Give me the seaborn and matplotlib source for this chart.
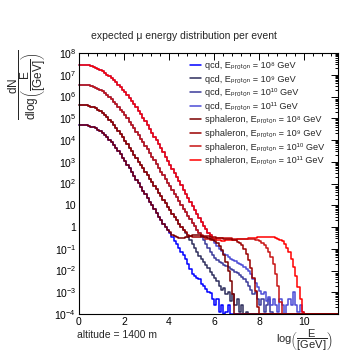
import numpy as np
import pandas as pd
import matplotlib
matplotlib.use("Agg")
import matplotlib.pyplot as plt
import seaborn as sns
from matplotlib.ticker import MultipleLocator, LogLocator, FixedLocator, FixedFormatter, NullFormatter

# ---------------- data (log10 of counts per bin, bin width 0.1 in log10(E/GeV), starting at 0) ----
# None = empty bin
low_1e8 = [4.69, 4.69, 4.68, 4.67, 4.65, 4.62, 4.58, 4.53, 4.47, 4.40,
           4.32, 4.23, 4.13, 4.02, 3.90, 3.77, 3.63, 3.49, 3.34, 3.18,
           3.02, 2.86, 2.69, 2.52, 2.35, 2.18, 2.01, 1.84, 1.67, 1.50,
           1.33, 1.16, 0.99, 0.82, 0.65, 0.48, 0.32, 0.16, 0.01, -0.13]
tail_qcd_1e8 = [-0.28, -0.45, -0.63, -0.80, -0.97, -1.13, -1.30, -1.48, -1.70, -1.95,
                -2.15, -2.25, -2.35, -2.40, -2.60, -2.70, -2.85, -3.00, -3.05, -3.30,
                -3.60, -3.30, -3.90, -3.60, None, -3.90, -3.60]
tail_sph_1e8 = [-0.25, -0.35, -0.42, -0.47, -0.50, -0.51, -0.50, -0.48, -0.45, -0.42,
                -0.39, -0.37, -0.36, -0.37, -0.40, -0.44, -0.48, -0.52, -0.56, -0.60,
                -0.66, -0.75, -0.88, -1.06, -1.30, -1.62, -2.02, -2.50, -3.10]

low_1e9 = [5.61, 5.61, 5.60, 5.59, 5.57, 5.54, 5.50, 5.45, 5.39, 5.32,
           5.24, 5.15, 5.05, 4.94, 4.82, 4.69, 4.56, 4.42, 4.27, 4.12,
           3.97, 3.81, 3.65, 3.49, 3.33, 3.17, 3.01, 2.85, 2.69, 2.53,
           2.37, 2.21, 2.05, 1.89, 1.73, 1.57, 1.41, 1.25, 1.09, 0.93,
           0.77, 0.61, 0.45, 0.30, 0.15, 0.01, -0.13]
tail_qcd_1e9 = [-0.28, -0.45, -0.62, -0.80, -0.98, -1.15, -1.32, -1.48, -1.62, -1.76,
                -1.90, -2.05, -2.20, -2.35, -2.50, -2.70, -2.90, -2.80, -3.10, -3.00,
                -3.40, -3.10, -3.60, -3.30, -3.90, -3.60, None, -3.90]
tail_sph_1e9 = [-0.25, -0.35, -0.42, -0.46, -0.47, -0.46, -0.44, -0.42, -0.41, -0.41,
                -0.42, -0.44, -0.46, -0.48, -0.50, -0.51, -0.52, -0.53, -0.54, -0.55,
                -0.57, -0.59, -0.62, -0.67, -0.74, -0.85, -1.00, -1.22, -1.50, -1.88,
                -2.35, -2.95, -3.70]

low_1e10 = [6.54, 6.54, 6.54, 6.53, 6.51, 6.48, 6.45, 6.41, 6.36, 6.30,
            6.23, 6.15, 6.06, 5.97, 5.87, 5.76, 5.65, 5.53, 5.40, 5.27,
            5.13, 4.99, 4.84, 4.69, 4.54, 4.38, 4.22, 4.06, 3.90, 3.73,
            3.57, 3.40, 3.23, 3.06, 2.89, 2.72, 2.55, 2.38, 2.21, 2.04,
            1.87, 1.70, 1.53, 1.36, 1.19, 1.02, 0.85, 0.68, 0.51, 0.35,
            0.19, 0.03, -0.12]
tail_qcd_1e10 = [-0.28, -0.45, -0.62, -0.80, -0.98, -1.15, -1.30, -1.42, -1.52, -1.60,
                 -1.67, -1.74, -1.80, -1.86, -1.92, -1.98, -2.05, -2.12, -2.20, -2.30,
                 -2.40, -2.55, -2.70, -2.90, -3.10, -3.00, -3.30, -3.60, -3.30, -3.90,
                 -3.60, -3.30, -3.90]
tail_sph_1e10 = [-0.26, -0.38, -0.47, -0.53, -0.57, -0.58, -0.57, -0.55, -0.52, -0.50,
                 -0.49, -0.49, -0.50, -0.51, -0.52, -0.53, -0.53, -0.53, -0.53, -0.53,
                 -0.53, -0.53, -0.54, -0.55, -0.57, -0.59, -0.62, -0.66, -0.72, -0.82,
                 -0.96, -1.15, -1.40, -1.72, -2.15, -2.70, -3.45]

low_1e11 = [7.46, 7.46, 7.46, 7.45, 7.43, 7.40, 7.37, 7.33, 7.28, 7.22,
            7.16, 7.09, 7.01, 6.93, 6.84, 6.75, 6.65, 6.54, 6.43, 6.31,
            6.19, 6.06, 5.93, 5.79, 5.65, 5.50, 5.35, 5.19, 5.03, 4.86,
            4.69, 4.52, 4.34, 4.16, 3.98, 3.80, 3.62, 3.43, 3.24, 3.05,
            2.86, 2.67, 2.48, 2.29, 2.10, 1.91, 1.72, 1.53, 1.34, 1.15,
            0.96, 0.77, 0.58, 0.40, 0.22, 0.05, -0.11, -0.26, -0.39]
tail_qcd_1e11 = [-0.55, -0.72, -0.88, -1.01, -1.12, -1.22, -1.31, -1.39, -1.46, -1.52,
                 -1.58, -1.64, -1.70, -1.76, -1.83, -1.92, -2.03, -2.18, -2.38, -2.58,
                 -2.75, -2.92, -3.10, -3.00, -3.40, -3.20, -3.60, -3.30, -3.60, -3.90,
                 -3.30, -3.60, None, -3.60, -3.30, -3.60, -3.00, -3.60, -3.90, -3.60,
                 -3.90]
tail_sph_1e11 = [-0.49, -0.56, -0.60, -0.62, -0.63, -0.63, -0.62, -0.61, -0.60, -0.59,
                 -0.58, -0.57, -0.56, -0.55, -0.54, -0.53, -0.52, -0.51, -0.50, -0.49,
                 -0.48, -0.47, -0.47, -0.46, -0.46, -0.46, -0.47, -0.48, -0.50, -0.53,
                 -0.58, -0.66, -0.78, -0.95, -1.17, -1.45, -1.82, -2.25, -2.75, -3.30,
                 -3.90]

qcd_1e8 = low_1e8 + tail_qcd_1e8
qcd_1e9 = low_1e9 + tail_qcd_1e9
qcd_1e10 = low_1e10 + tail_qcd_1e10
qcd_1e11 = low_1e11 + tail_qcd_1e11
sph_1e8 = low_1e8 + tail_sph_1e8
sph_1e9 = low_1e9 + tail_sph_1e9
sph_1e10 = low_1e10 + tail_sph_1e10
sph_1e11 = low_1e11 + tail_sph_1e11

labels = ["qcd, E\u209a\u1d63\u2092\u209c\u2092\u2099 = 10\u2078 GeV",
          "qcd, E\u209a\u1d63\u2092\u209c\u2092\u2099 = 10\u2079 GeV",
          "qcd, E\u209a\u1d63\u2092\u209c\u2092\u2099 = 10\u00b9\u2070 GeV",
          "qcd, E\u209a\u1d63\u2092\u209c\u2092\u2099 = 10\u00b9\u00b9 GeV",
          "sphaleron, E\u209a\u1d63\u2092\u209c\u2092\u2099 = 10\u2078 GeV",
          "sphaleron, E\u209a\u1d63\u2092\u209c\u2092\u2099 = 10\u2079 GeV",
          "sphaleron, E\u209a\u1d63\u2092\u209c\u2092\u2099 = 10\u00b9\u2070 GeV",
          "sphaleron, E\u209a\u1d63\u2092\u209c\u2092\u2099 = 10\u00b9\u00b9 GeV"]
series_values = [qcd_1e8, qcd_1e9, qcd_1e10, qcd_1e11, sph_1e8, sph_1e9, sph_1e10, sph_1e11]
colors = ["#0000ff", "#2e2e5c", "#3a3a9a", "#4b4bd6",
          "#7a0000", "#9a0000", "#c81414", "#ff0000"]

y_tick_values = [1e-4, 1e-3, 1e-2, 1e-1, 1, 10, 1e2, 1e3, 1e4, 1e5, 1e6, 1e7, 1e8]
y_tick_labels = [r"$10^{-4}$", r"$10^{-3}$", r"$10^{-2}$", r"$10^{-1}$", "1", "10",
                 r"$10^{2}$", r"$10^{3}$", r"$10^{4}$", r"$10^{5}$", r"$10^{6}$", r"$10^{7}$", r"$10^{8}$"]

BIN_WIDTH = 0.1
N_BINS = 115
YMIN, YMAX = 1e-4, 1e8
XMAX = 11.5

# ---------------- style ----------------
sns.set_theme(style="white")
plt.rcParams["font.family"] = ["Liberation Sans", "DejaVu Sans"]
plt.rcParams["mathtext.fontset"] = "custom"
plt.rcParams["mathtext.rm"] = "Liberation Sans"
plt.rcParams["mathtext.it"] = "Liberation Sans"
plt.rcParams["mathtext.bf"] = "Liberation Sans:bold"
plt.rcParams["axes.edgecolor"] = "black"
plt.rcParams["axes.linewidth"] = 0.8

W = 357.0
fig = plt.figure(figsize=(3.57, 3.57), dpi=100)
ax = fig.add_axes([79 / W, 1 - 314 / W, (338 - 79) / W, (314 - 53) / W])
ax.set_yscale("log")

edges = np.arange(N_BINS + 1) * BIN_WIDTH
handles = {}
draw_order = [0, 1, 2, 3, 7, 6, 5, 4]
for i in draw_order:
    vals = series_values[i]
    counts = np.zeros(N_BINS)
    arr = np.array([np.nan if v is None else v for v in vals], dtype=float)
    counts[:len(arr)] = np.where(np.isnan(arr), 0.0, 10.0 ** arr)
    y = np.where(counts > 0, counts, YMIN)
    y = np.append(y, y[-1])
    df = pd.DataFrame({"x": edges, "y": y})
    sns.lineplot(data=df, x="x", y="y", ax=ax, drawstyle="steps-post", color=colors[i],
                 lw=1.1, estimator=None, sort=False, clip_on=False)
    handles[i] = ax.lines[-1]

ax.set_xlim(0, XMAX)
ax.set_ylim(YMIN, YMAX)
ax.set_xlabel("")
ax.set_ylabel("")

ax.xaxis.set_major_locator(MultipleLocator(2))
ax.xaxis.set_minor_locator(MultipleLocator(0.4))
ax.yaxis.set_major_locator(FixedLocator(y_tick_values))
ax.yaxis.set_major_formatter(FixedFormatter(y_tick_labels))
ax.yaxis.set_minor_locator(LogLocator(base=10, subs=np.arange(2, 10), numticks=30))
ax.yaxis.set_minor_formatter(NullFormatter())
ax.tick_params(which="both", direction="in", top=True, right=True, colors="black",
               labelsize=7.5, width=0.7)
ax.tick_params(which="major", length=5, pad=2)
ax.tick_params(which="minor", length=2.5)
for s in ax.spines.values():
    s.set_color("black")
    s.set_linewidth(0.8)

leg = ax.legend([handles[i] for i in range(8)], labels, loc="upper left",
                bbox_to_anchor=(190 / W, 1 - 61 / W), bbox_transform=fig.transFigure,
                frameon=False, handlelength=1.2, handletextpad=0.4,
                labelspacing=0.5, borderaxespad=0, borderpad=0,
                prop={"family": ["Liberation Sans", "DejaVu Sans"], "size": 6.6})

fig.text(184 / W, 1 - 36 / W, "expected \u03bc energy distribution per event",
         ha="center", va="center", fontsize=7.5)
fig.text(27 / W, 1 - 85 / W,
         r"$\dfrac{\mathrm{dN}}{\mathrm{dlog}\left(\dfrac{\mathrm{E}}{\mathrm{[GeV]}}\right)}$",
         rotation=90, ha="center", va="center", fontsize=8.5)
fig.text(304 / W, 1 - 340 / W, r"$\mathrm{log}\left(\dfrac{\mathrm{E}}{\mathrm{[GeV]}}\right)$",
         ha="center", va="center", fontsize=8)
fig.text(77 / W, 1 - 335 / W, "altitude = 1400 m", ha="left", va="center", fontsize=7.5)

fig.savefig("out.png", dpi=100, facecolor="white")
